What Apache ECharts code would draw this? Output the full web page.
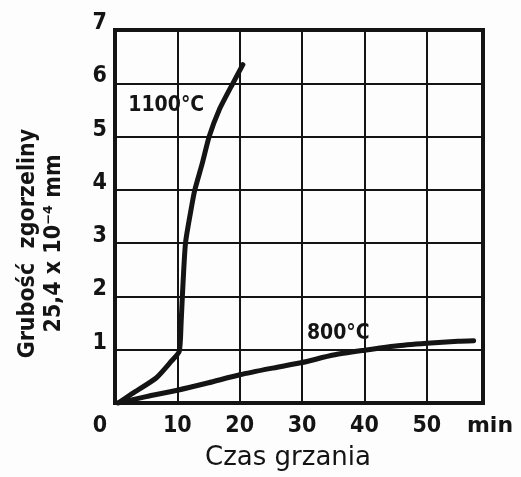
<!DOCTYPE html>
<html>
<head>
<meta charset="utf-8">
<title>Grubość zgorzeliny</title>
<script src="https://cdn.jsdelivr.net/npm/echarts@6/dist/echarts.min.js"></script>
<style>
    html, body { margin: 0; padding: 0; background: #fdfdfd; }
    #chart-view { width: 521px; height: 477px; }
</style>
</head>
<body>
<div id="chart-view"></div>
<script>
// czas grzania [min], grubosc zgorzeliny [25,4 x 10^-4 mm]
var hot1100 = [
    [0.5, 0], [2.8, 0.18], [6.6, 0.47], [9, 0.78], [10.3, 0.97],
    [10.6, 1.5], [10.8, 2], [11.3, 3], [12.3, 3.7], [12.8, 4],
    [14, 4.5], [15.1, 5], [16.7, 5.5], [18.9, 6], [20.5, 6.35]
];
var hot800 = [
    [0.5, 0], [5, 0.12], [10, 0.24], [15, 0.38], [20, 0.53],
    [25, 0.65], [30, 0.76], [35, 0.9], [40, 0.99], [45, 1.07],
    [50, 1.12], [55, 1.16], [57.5, 1.17]
];
var xTicks = [0, 10, 20, 30, 40, 50];
var yTicks = [0, 1, 2, 3, 4, 5, 6, 7];
var xUnit = 'min';
var xName = 'Czas grzania';
var yName = 'Grubość  zgorzeliny\n25,4 x 10⁻⁴ mm';
var curveNames = ['1100°C', '800°C'];

var ink = '#141414';
var numFont = '"DejaVu Sans Condensed", "DejaVu Sans", sans-serif';

// punkt, przy ktorym stoi opis krzywej
function withLabel(data, idx, text, pos, offset) {
    var out = [];
    for (var i = 0; i < data.length; i++) {
        if (i === idx) {
            out.push({
                value: data[i],
                label: { show: true, formatter: text, position: pos, offset: offset }
            });
        } else {
            out.push(data[i]);
        }
    }
    return out;
}

var chart = echarts.init(document.getElementById('chart-view'));
var curveStyle = { color: ink, width: 5, cap: 'round', join: 'round' };
var curveLabel = { color: ink, fontFamily: numFont, fontWeight: 'bold', fontSize: 21 };

chart.setOption({
    backgroundColor: '#fdfdfd',
    animation: false,
    grid: {
        left: 115, top: 30, right: 38, bottom: 74,
        show: true, borderColor: ink, borderWidth: 4
    },
    xAxis: {
        type: 'value',
        min: xTicks[0],
        max: 59,
        interval: 10,
        name: xName,
        nameLocation: 'middle',
        nameGap: 42,
        nameTextStyle: {
            color: ink, fontFamily: 'DejaVu Sans', fontSize: 26,
            padding: [0, 22, 0, 0], verticalAlign: 'top'
        },
        axisLine: { lineStyle: { color: ink, width: 4 } },
        axisTick: { show: false },
        splitLine: { lineStyle: { color: ink, width: 2 } },
        axisLabel: {
            color: ink, fontFamily: numFont, fontWeight: 'bold', fontSize: 23, margin: 12,
            formatter: function (v) {
                if (v === 0) return '{z|0}';
                if (xTicks.indexOf(v) < 0) return '{u|' + xUnit + '}';
                return String(v);
            },
            rich: {
                z: { fontFamily: numFont, fontWeight: 'bold', fontSize: 23, padding: [0, 30, 0, 0], color: ink },
                u: { fontFamily: 'DejaVu Sans', fontSize: 22, padding: [0, 0, 0, 14], color: ink }
            }
        }
    },
    yAxis: {
        type: 'value',
        min: yTicks[0],
        max: yTicks[yTicks.length - 1],
        interval: 1,
        name: yName,
        nameLocation: 'middle',
        nameRotate: 90,
        nameGap: 48,
        nameTextStyle: {
            color: ink, fontFamily: numFont, fontWeight: 'bold', fontSize: 23,
            lineHeight: 26, padding: [0, 54, 0, 0]
        },
        axisLine: { lineStyle: { color: ink, width: 4 } },
        axisTick: { show: false },
        splitLine: { lineStyle: { color: ink, width: 2 } },
        axisLabel: {
            color: ink, fontFamily: numFont, fontWeight: 'bold', fontSize: 23, margin: 8,
            verticalAlign: 'bottom', lineHeight: 14,
            // zero podpisany przy osi X
            formatter: function (v) { return v === 0 ? '' : String(v); }
        }
    },
    series: [
        {
            name: curveNames[0],
            type: 'line',
            data: withLabel(hot1100, 11, curveNames[0], 'left', [0, -31]),
            smooth: 0.2,
            symbol: 'circle',
            symbolSize: 0,
            showSymbol: true,
            lineStyle: curveStyle,
            label: curveLabel
        },
        {
            name: curveNames[1],
            type: 'line',
            data: withLabel(hot800, 7, curveNames[1], 'top', [5, -6]),
            smooth: 0.2,
            symbol: 'circle',
            symbolSize: 0,
            showSymbol: true,
            lineStyle: curveStyle,
            label: curveLabel
        }
    ]
});
</script>
</body>
</html>
